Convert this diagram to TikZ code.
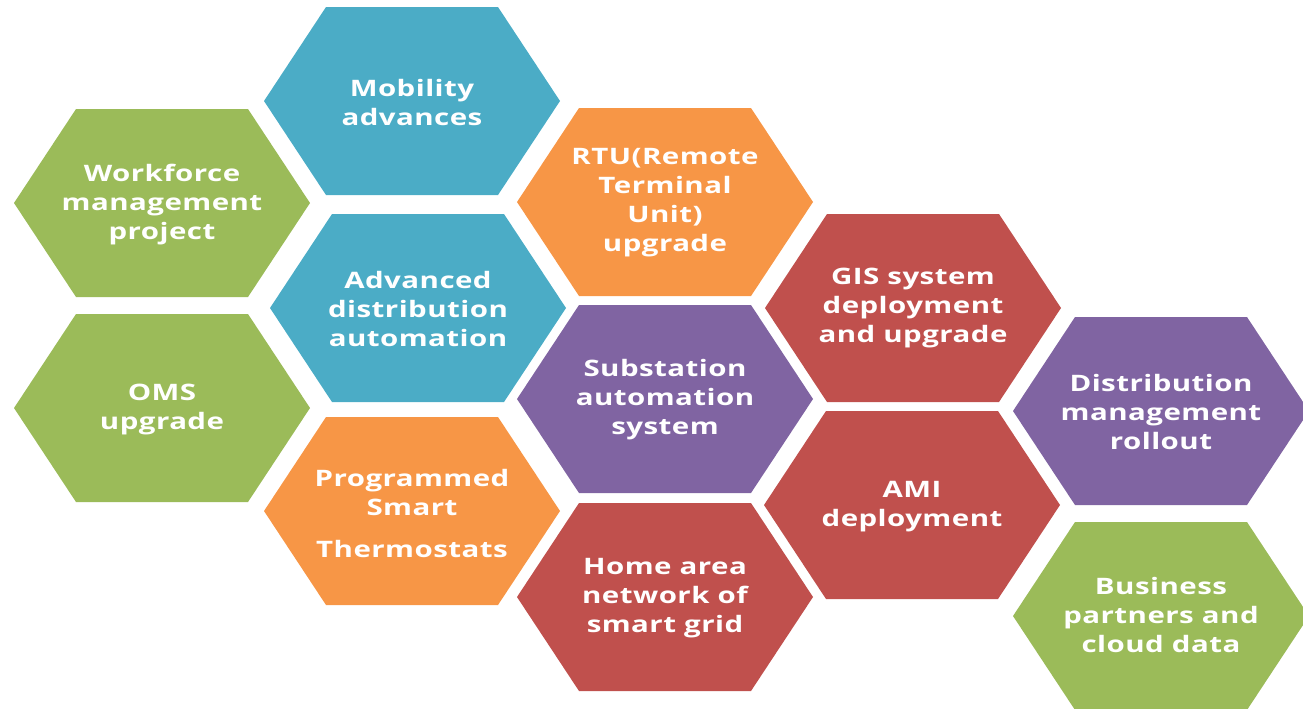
\documentclass[tikz,border=0pt]{standalone}
\usepackage{fontspec}
\usepackage{tikz}
\usepackage{color}
\newfontfamily\hexfont{Open Sans}[FakeStretch=1.3,LetterSpace=2]
\definecolor{hexgreen}{HTML}{9BBB59}
\definecolor{hexblue}{HTML}{4BACC6}
\definecolor{hexorange}{HTML}{F79646}
\definecolor{hexred}{HTML}{C0504D}
\definecolor{hexpurple}{HTML}{8064A2}

\begin{document}
\begin{tikzpicture}[line cap=round,line join=round,x=0.75pt,y=-0.75pt,
  hexlabel/.style={text=white,align=center,inner sep=0pt,font=\hexfont\bfseries\fontsize{17}{21.75}\selectfont}]
\useasboundingbox (0,0) rectangle (1303,708);
\clip (0,0) rectangle (1303,708);
% column 1
\fill [color=hexgreen] (14,203) -- ++(62,-94) -- ++(172,0) -- ++(62,94) -- ++(-62,94) -- ++(-172,0) -- cycle;
\fill [color=hexgreen] (14,408) -- ++(62,-94) -- ++(172,0) -- ++(62,94) -- ++(-62,94) -- ++(-172,0) -- cycle;
% column 2
\fill [color=hexblue] (264,101) -- ++(62,-94) -- ++(172,0) -- ++(62,94) -- ++(-62,94) -- ++(-172,0) -- cycle;
\fill [color=hexblue] (270,308) -- ++(62,-94) -- ++(172,0) -- ++(62,94) -- ++(-62,94) -- ++(-172,0) -- cycle;
\fill [color=hexorange] (264,511) -- ++(62,-94) -- ++(172,0) -- ++(62,94) -- ++(-62,94) -- ++(-172,0) -- cycle;
% column 3
\fill [color=hexorange] (517,202) -- ++(62,-94) -- ++(172,0) -- ++(62,94) -- ++(-62,94) -- ++(-172,0) -- cycle;
\fill [color=hexpurple] (517,399) -- ++(62,-94) -- ++(172,0) -- ++(62,94) -- ++(-62,94) -- ++(-172,0) -- cycle;
\fill [color=hexred] (517,597) -- ++(62,-94) -- ++(172,0) -- ++(62,94) -- ++(-62,94) -- ++(-172,0) -- cycle;
% column 4
\fill [color=hexred] (765,308) -- ++(62,-94) -- ++(172,0) -- ++(62,94) -- ++(-62,94) -- ++(-172,0) -- cycle;
\fill [color=hexred] (764,505) -- ++(62,-94) -- ++(172,0) -- ++(62,94) -- ++(-62,94) -- ++(-172,0) -- cycle;
% column 5
\fill [color=hexpurple] (1013,411) -- ++(62,-94) -- ++(172,0) -- ++(62,94) -- ++(-62,94) -- ++(-172,0) -- cycle;
\fill [color=hexgreen] (1013,616) -- ++(62,-94) -- ++(172,0) -- ++(62,94) -- ++(-62,94) -- ++(-172,0) -- cycle;
% labels
\node [hexlabel] (workforce) at (162,205) {Workforce\\management\\project};
\node [hexlabel] (oms) at (162,409) {OMS\\upgrade};
\node [hexlabel] (mobility) at (412,102) {Mobility\\advances};
\node [hexlabel] (advdist) at (418,309) {Advanced\\distribution\\automation};
\node [hexlabel] (thermo) at (412,513) {Programmed\\Smart\\[9.75pt]Thermostats};
\node [hexlabel] (rtu) at (665,203) {RTU(Remote\\Terminal\\Unit)\\upgrade};
\node [hexlabel] (substation) at (665,400) {Substation\\automation\\system};
\node [hexlabel] (homearea) at (665,598) {Home area\\network of\\smart grid};
\node [hexlabel] (gis) at (913,308) {GIS system\\deployment\\and upgrade};
\node [hexlabel] (ami) at (912,507) {AMI\\deployment};
\node [hexlabel] (distmgmt) at (1161,412) {Distribution\\management\\rollout};
\node [hexlabel] (business) at (1161,615) {Business\\partners and\\cloud data};
\end{tikzpicture}
\end{document}
